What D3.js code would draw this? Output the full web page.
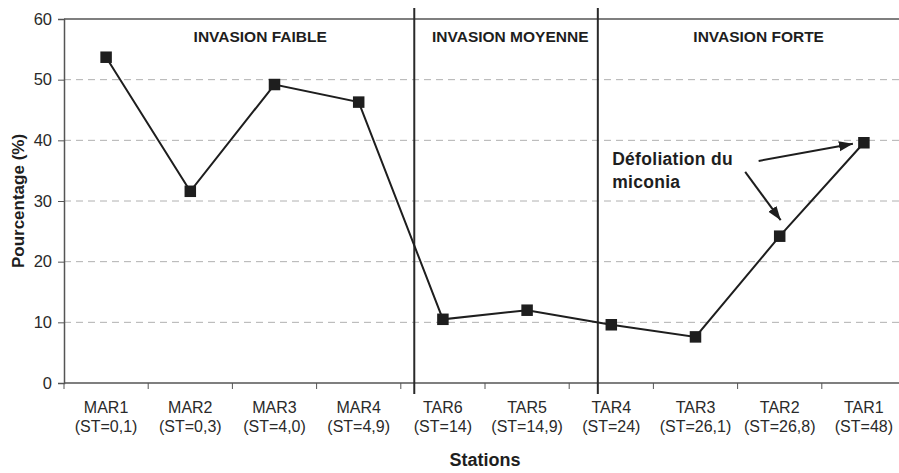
<!DOCTYPE html>
<html><head><meta charset="utf-8">
<script src="https://cdn.jsdelivr.net/npm/d3@7"></script>
<style>body{margin:0;background:#fff;} svg{display:block;font-family:"Liberation Sans",Arial,sans-serif;}</style>
</head><body>
<svg id="c" width="899" height="473"></svg>
<script>
const stations = ["MAR1","MAR2","MAR3","MAR4","TAR6","TAR5","TAR4","TAR3","TAR2","TAR1"];
const stLabels = ["(ST=0,1)","(ST=0,3)","(ST=4,0)","(ST=4,9)","(ST=14)","(ST=14,9)","(ST=24)","(ST=26,1)","(ST=26,8)","(ST=48)"];
const values = [53.7, 31.6, 49.2, 46.3, 10.5, 12.0, 9.6, 7.6, 24.2, 39.6];
const yTicks = [0,10,20,30,40,50,60];
const zoneNames = ["INVASION FAIBLE","INVASION MOYENNE","INVASION FORTE"];
const zoneCenters = [1.83, 4.8, 7.75];      // in station-index units
const dividers = [3.66, 5.84];              // in station-index units
const annotLines = ["Défoliation du","miconia"];

const svg = d3.select("#c");
const L = 64, T = 19, B = 383, R = 906;
const x = d3.scaleBand().domain(stations).range([L, R]).padding(0);
const xi = d3.scaleLinear().domain([0, 1]).range([L + x.bandwidth()/2, L + x.bandwidth()*1.5]);
const y = d3.scaleLinear().domain([0, 60]).range([B, T]);
const ink = "#1e1e1e", axisCol = "#555";

// gridlines
svg.append("g").selectAll("line").data(yTicks.filter(d => d > 0 && d < 60)).join("line")
  .attr("x1", L).attr("x2", 899).attr("y1", d => y(d)).attr("y2", d => y(d))
  .attr("stroke", "#b0b0b0").attr("stroke-width", 1).attr("stroke-dasharray", "7,5");

// top frame line
svg.append("line").attr("x1", L).attr("x2", 899).attr("y1", y(60)).attr("y2", y(60))
  .attr("stroke", axisCol).attr("stroke-width", 1.5);

// y axis
const ya = svg.append("g").attr("transform", `translate(${L},0)`)
  .call(d3.axisLeft(y).tickValues(yTicks).tickSize(6).tickPadding(6));
ya.select(".domain").attr("stroke", axisCol).attr("stroke-width", 1.5);
ya.selectAll(".tick line").attr("stroke", axisCol);
ya.selectAll("text").attr("font-size", 16.5).attr("fill", "#2a2a2a")
  .attr("font-family", "Liberation Sans, Arial, sans-serif");

// x axis
svg.append("line").attr("x1", L).attr("x2", 899).attr("y1", B).attr("y2", B)
  .attr("stroke", axisCol).attr("stroke-width", 1.5);
svg.append("g").selectAll("line").data(stations).join("line")
  .attr("x1", d => x(d)).attr("x2", d => x(d)).attr("y1", B).attr("y2", B + 6)
  .attr("stroke", axisCol).attr("stroke-width", 1);
const xl = svg.append("g").selectAll("text").data(stations).join("text")
  .attr("x", d => x(d) + x.bandwidth()/2).attr("text-anchor", "middle")
  .attr("font-size", 16).attr("fill", "#2a2a2a");
xl.append("tspan").attr("x", d => x(d) + x.bandwidth()/2).attr("y", 413).text(d => d);
xl.append("tspan").attr("x", d => x(d) + x.bandwidth()/2).attr("y", 432).text((d, i) => stLabels[i]);

// dividers
svg.append("g").selectAll("line").data(dividers).join("line")
  .attr("x1", d => xi(d)).attr("x2", d => xi(d)).attr("y1", 8).attr("y2", 394)
  .attr("stroke", "#2a2a2a").attr("stroke-width", 2);

// zone labels
svg.append("g").selectAll("text").data(zoneNames).join("text")
  .attr("x", (d, i) => xi(zoneCenters[i])).attr("y", 42).attr("text-anchor", "middle")
  .attr("font-size", 15.5).attr("font-weight", "bold").attr("fill", ink).text(d => d);

// line + markers
const line = d3.line().x((d, i) => x(stations[i]) + x.bandwidth()/2).y(d => y(d));
svg.append("path").datum(values).attr("d", line).attr("fill", "none")
  .attr("stroke", ink).attr("stroke-width", 2);
const ms = 11.5;
svg.append("g").selectAll("rect").data(values).join("rect")
  .attr("x", (d, i) => x(stations[i]) + x.bandwidth()/2 - ms/2).attr("y", d => y(d) - ms/2)
  .attr("width", ms).attr("height", ms).attr("fill", ink);

// annotation
svg.append("defs").append("marker").attr("id", "ah").attr("viewBox", "0 0 14 12")
  .attr("refX", 14).attr("refY", 6).attr("markerWidth", 14).attr("markerHeight", 12)
  .attr("markerUnits", "userSpaceOnUse").attr("orient", "auto")
  .append("path").attr("d", "M0,1 L14,6 L0,11 Z").attr("fill", ink);
const ax0 = xi(6.01), ay0 = y(35.9);
svg.append("text").attr("font-size", 17.5).attr("font-weight", "bold").attr("fill", ink)
  .attr("letter-spacing", 0.3)
  .selectAll("tspan").data(annotLines).join("tspan")
  .attr("x", ax0).attr("y", (d, i) => ay0 + i * 23).text(d => d);
const tgt1 = [x("TAR1") + x.bandwidth()/2, y(values[9])];
const tgt2 = [x("TAR2") + x.bandwidth()/2, y(values[8])];
svg.append("line").attr("x1", xi(7.75)).attr("y1", y(36.6)).attr("x2", tgt1[0] - 11).attr("y2", tgt1[1] + 1)
  .attr("stroke", ink).attr("stroke-width", 2).attr("marker-end", "url(#ah)");
svg.append("line").attr("x1", xi(7.59)).attr("y1", y(34.8)).attr("x2", tgt2[0] + 1).attr("y2", tgt2[1] - 16)
  .attr("stroke", ink).attr("stroke-width", 2).attr("marker-end", "url(#ah)");

// axis titles
svg.append("text").attr("x", (L + R)/2).attr("y", 466).attr("text-anchor", "middle")
  .attr("font-size", 18).attr("font-weight", "bold").attr("fill", ink).text("Stations");
svg.append("text").attr("transform", `translate(24,${(T + B)/2}) rotate(-90)`).attr("text-anchor", "middle")
  .attr("font-size", 17).attr("font-weight", "bold").attr("fill", ink).text("Pourcentage (%)");
</script>
</body></html>
